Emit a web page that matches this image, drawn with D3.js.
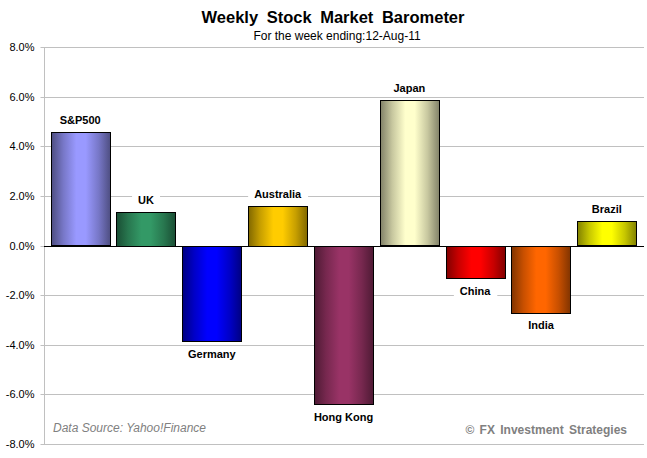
<!DOCTYPE html>
<html lang="en">
  <head>
  <meta charset="utf-8">
  <title>Weekly Stock Market Barometer</title>
    <style>
      body { margin: 0; background: #fff; }
      text { font-family: "Liberation Sans", Arial, sans-serif; }
      .tick text { font-size: 11px; fill: #000; }
    </style>
  </head>
  <body>
<div id="chart"></div>
    <script src="https://d3js.org/d3.v7.min.js"></script>
    <script>
    var markets = ["S&P500", "UK", "Germany", "Australia", "Hong Kong", "Japan", "China", "India", "Brazil"];
    var changes = [0.0456, 0.0137, -0.0383, 0.0161, -0.0637, 0.0585, -0.0129, -0.0270, 0.0097];
    var barColors = ["#9999ff", "#339966", "#0000ff", "#ffcc00", "#993366", "#ffffcc", "#ff0000", "#ff6600", "#ffff00"];
    var yTicks = [-0.08, -0.06, -0.04, -0.02, 0, 0.02, 0.04, 0.06, 0.08];

    var width = 647, height = 458;
    var plotLeft = 44, plotRight = 644, plotTop = 47, plotBottom = 444;

    var svg = d3.select("#chart").append("svg")
        .attr("width", width)
        .attr("height", height);

    var x = d3.scaleBand().domain(markets).range([plotLeft, plotRight - 1]).paddingInner(0.1).paddingOuter(0.1);
    var y = d3.scaleLinear().domain([-0.08, 0.08]).range([plotBottom, plotTop]);
    var pct = function(d) { return d3.format(".1%")(d).replace("\u2212", "-"); };

    // gradients, dark edges and bright middle
    var defs = svg.append("defs");
    barColors.forEach(function(c, i) {
      var dark = d3.color(c).darker(1.9);
      var mid = d3.interpolateRgb(dark, c)(0.55);
      var g = defs.append("linearGradient").attr("id", "grad" + i)
          .attr("x1", "0%").attr("x2", "100%").attr("y1", "0%").attr("y2", "0%");
      g.append("stop").attr("offset", "0%").attr("stop-color", dark);
      g.append("stop").attr("offset", "20%").attr("stop-color", mid);
      g.append("stop").attr("offset", "42%").attr("stop-color", c);
      g.append("stop").attr("offset", "58%").attr("stop-color", c);
      g.append("stop").attr("offset", "80%").attr("stop-color", mid);
      g.append("stop").attr("offset", "100%").attr("stop-color", dark);
    });

    // gridlines
    svg.append("g").selectAll("line")
        .data(yTicks)
        .enter().append("line")
          .attr("x1", plotLeft).attr("x2", plotRight)
          .attr("y1", function(d) { return Math.round(y(d)) + 0.5; })
          .attr("y2", function(d) { return Math.round(y(d)) + 0.5; })
          .attr("stroke", "#c0c0c0");

    // y axis
    var yAxis = svg.append("g")
        .attr("transform", "translate(" + (plotLeft + 0.5) + ",0)")
        .call(d3.axisLeft(y).tickValues(yTicks).tickFormat(pct).tickSize(4).tickPadding(6));
    yAxis.select(".domain").attr("stroke", "#c0c0c0").attr("d", "M0," + plotTop + "V" + (plotBottom + 1));
    yAxis.selectAll(".tick line").attr("stroke", "#c0c0c0");
    yAxis.selectAll(".tick").attr("transform", function(d) { return "translate(0," + (Math.round(y(d)) + 0.5) + ")"; });

    var rows = markets.map(function(m, i) { return { name: m, value: changes[i], i: i }; });

    // bars
    svg.append("g").selectAll("rect")
        .data(rows)
        .enter().append("rect")
          .attr("x", function(d) { return Math.round(x(d.name)) + 0.5; })
          .attr("width", Math.round(x.bandwidth()))
          .attr("y", function(d) { return Math.round(y(Math.max(0, d.value))) + 0.5; })
          .attr("height", function(d) { return Math.round(Math.abs(y(d.value) - y(0))); })
          .attr("fill", function(d) { return "url(#grad" + d.i + ")"; })
          .attr("stroke", "#000")
          .attr("stroke-width", 1);

    // zero line
    svg.append("line")
        .attr("x1", plotLeft).attr("x2", plotRight)
        .attr("y1", Math.round(y(0)) + 0.5).attr("y2", Math.round(y(0)) + 0.5)
        .attr("stroke", "#000");

    // labels with white box
    var lab = svg.append("g").selectAll("g")
        .data(rows)
        .enter().append("g")
          .attr("transform", function(d) {
            var cx = x(d.name) + x.bandwidth() / 2;
            var ly = d.value >= 0 ? y(d.value) - 8 : y(d.value) + 17;
            return "translate(" + cx + "," + ly + ")";
          });
    lab.append("text")
        .attr("text-anchor", "middle")
        .attr("font-size", "11px")
        .attr("font-weight", "bold")
        .text(function(d) { return d.name; })
        .each(function() {
          var b = this.getBBox();
          d3.select(this.parentNode).insert("rect", "text")
            .attr("x", b.x - 6).attr("y", b.y - 1)
            .attr("width", b.width + 12).attr("height", b.height + 2)
            .attr("fill", "#fff");
        });

    // titles
    svg.append("text")
        .attr("x", 333).attr("y", 23)
        .attr("text-anchor", "middle")
        .attr("font-size", "16.5px").attr("font-weight", "bold")
        .attr("word-spacing", "4px")
        .text("Weekly Stock Market Barometer");
    svg.append("text")
        .attr("x", 337).attr("y", 40)
        .attr("text-anchor", "middle")
        .attr("font-size", "12px")
        .text("For the week ending:12-Aug-11");

    // footer texts
    svg.append("text")
        .attr("x", 53).attr("y", 432)
        .attr("font-size", "12px").attr("font-style", "italic")
        .attr("fill", "#808080")
        .text("Data Source: Yahoo!Finance");
    svg.append("text")
        .attr("x", 627).attr("y", 434)
        .attr("text-anchor", "end")
        .attr("font-size", "12px").attr("font-weight", "bold")
        .attr("fill", "#808080")
        .attr("word-spacing", "2px")
        .text("\u00a9 FX Investment Strategies");
    </script>
  </body>
</html>
